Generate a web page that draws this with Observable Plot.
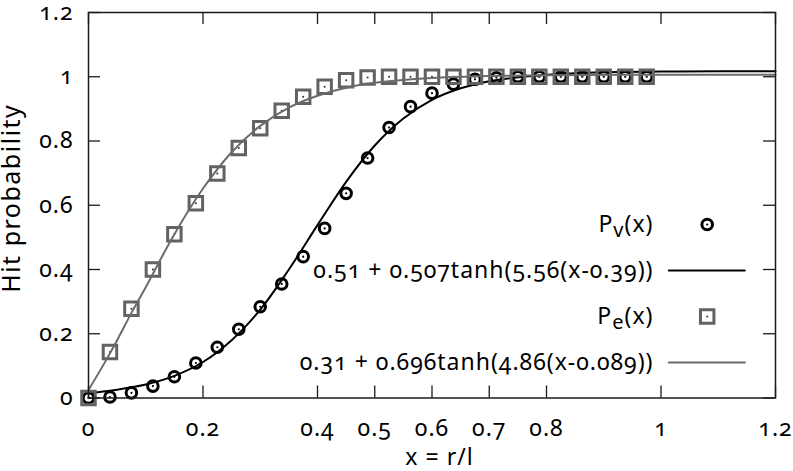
<!DOCTYPE html>
<html><head><meta charset="utf-8">
<script src="https://cdn.jsdelivr.net/npm/d3@7"></script>
<script src="https://cdn.jsdelivr.net/npm/@observablehq/plot@0.6"></script>
<style>
html,body{margin:0;padding:0;background:#fff;}
#chart svg{font-family:"Noto Sans",sans-serif;font-variant-numeric:oldstyle-nums;font-feature-settings:"onum" 1;letter-spacing:1px;}
</style></head><body><div id="chart"></div>
<script>
// sampled positions x = r/l
const xSample = [0, 0.0375, 0.075, 0.1125, 0.15, 0.1875, 0.225, 0.2625, 0.3, 0.3375, 0.375, 0.4125, 0.45, 0.4875, 0.525, 0.5625, 0.6, 0.6375, 0.675, 0.7125, 0.75, 0.7875, 0.825, 0.8625, 0.9, 0.9375, 0.975];
// P_v(x) measured
const pvValues = [0, 0.003, 0.016, 0.037, 0.066, 0.109, 0.158, 0.214, 0.284, 0.355, 0.44, 0.528, 0.637, 0.747, 0.842, 0.907, 0.949, 0.977, 0.992, 0.997, 1, 1, 1, 1, 1, 1, 1];
// P_e(x) measured
const peValues = [0, 0.143, 0.278, 0.40, 0.51, 0.606, 0.699, 0.778, 0.840, 0.894, 0.938, 0.969, 0.989, 0.998, 1, 1, 1, 1, 1, 1, 1, 1, 1, 1, 1, 1, 1];
// fitted curve for P_v
const fitVX = [0, 0.05, 0.1, 0.15, 0.2, 0.25, 0.3, 0.35, 0.4, 0.45, 0.5, 0.55, 0.6, 0.65, 0.7, 0.8, 0.9, 1.0, 1.1, 1.2];
const fitVY = [0.015, 0.026, 0.042, 0.069, 0.112, 0.18, 0.275, 0.40, 0.538, 0.673, 0.786, 0.87, 0.928, 0.964, 0.986, 1.006, 1.014, 1.016, 1.017, 1.017];
// fitted curve for P_e
const fitEX = [0, 0.025, 0.05, 0.075, 0.1, 0.15, 0.2, 0.25, 0.3, 0.35, 0.4, 0.45, 0.5, 0.6, 0.7, 0.8, 1.0, 1.2];
const fitEY = [0.025, 0.10, 0.18, 0.265, 0.345, 0.51, 0.652, 0.765, 0.847, 0.904, 0.941, 0.966, 0.981, 0.996, 1.002, 1.005, 1.006, 1.006];
// axes
const xTicks = [0, 0.2, 0.4, 0.5, 0.6, 0.7, 0.8, 1, 1.2];
const yTicks = [0, 0.2, 0.4, 0.6, 0.8, 1, 1.2];
const xLabel = "x = r/l";
const yLabel = "Hit probability";
const legendLabels = ["P_v(x)", "0.51 + 0.507tanh(5.56(x-0.39))", "P_e(x)", "0.31 + 0.696tanh(4.86(x-0.089))"];

const pv = xSample.map((x, i) => ({x, y: pvValues[i]}));
const pe = xSample.map((x, i) => ({x, y: peValues[i]}));
const fitV = fitVX.map((x, i) => ({x, y: fitVY[i]}));
const fitE = fitEX.map((x, i) => ({x, y: fitEY[i]}));

const W = 793, H = 471, mL = 88, mR = 18, mT = 12, mB = 73.5;
const fw = W - mL - mR, fh = H - mT - mB, tl = 12;
const black = "#000", gray = "#626262", grayLine = "#6b6b6b", axisCol = "#1a1a1a";
const lineShape = {draw(ctx, l) { ctx.moveTo(0, 0); ctx.lineTo(0, -l); }};
const rowDy = [212, 258, 304, 350];

const legendMarks = [];
legendLabels.forEach((lab, i) => {
  legendMarks.push(Plot.text([lab], {frameAnchor: "top-right", text: d => d, dx: -122, dy: rowDy[i], textAnchor: "end", lineAnchor: "middle", fill: "#000"}));
});
legendMarks.push(Plot.dot([0], {frameAnchor: "top-right", dx: -68.3, dy: rowDy[0], r: 5.3, stroke: black, strokeWidth: 3, fill: "none"}));
legendMarks.push(Plot.dot([0], {frameAnchor: "top-right", dx: -68.3, dy: rowDy[0], r: 1.1, fill: black}));
legendMarks.push(Plot.dot([0], {frameAnchor: "top-right", dx: -68.3, dy: rowDy[2], symbol: "square", r: 7.6, stroke: gray, strokeWidth: 3, fill: "none"}));
legendMarks.push(Plot.dot([0], {frameAnchor: "top-right", dx: -68.3, dy: rowDy[2], r: 1.0, fill: "#333"}));
legendMarks.push(Plot.vector([0], {frameAnchor: "top-right", dx: -106.7, dy: rowDy[1], rotate: 90, length: 76, anchor: "start", shape: lineShape, stroke: black, strokeWidth: 2}));
legendMarks.push(Plot.vector([0], {frameAnchor: "top-right", dx: -106.7, dy: rowDy[3], rotate: 90, length: 76, anchor: "start", shape: lineShape, stroke: grayLine, strokeWidth: 2}));

const fmt = d => String(d);
const chart = Plot.plot({
  width: W, height: H,
  marginLeft: mL, marginRight: mR, marginTop: mT, marginBottom: mB,
  style: {fontSize: "23px", fontFamily: "'Noto Sans', sans-serif", background: "#fff", color: "#000"},
  x: {domain: [0, 1.2], label: null},
  y: {domain: [0, 1.2], label: null},
  marks: [
    Plot.axisX({ticks: xTicks, tickSize: 0, tickPadding: 22, tickFormat: fmt, label: null}),
    Plot.axisY({ticks: yTicks, tickSize: 0, tickPadding: 15, tickFormat: fmt, label: null}),
    Plot.tickX(xTicks, {x: d => d, insetTop: fh - tl, stroke: axisCol, strokeWidth: 1.3}),
    Plot.tickX(xTicks, {x: d => d, insetBottom: fh - tl, stroke: axisCol, strokeWidth: 1.3}),
    Plot.tickY(yTicks, {y: d => d, insetRight: fw - tl, stroke: axisCol, strokeWidth: 1.3}),
    Plot.tickY(yTicks, {y: d => d, insetLeft: fw - tl, stroke: axisCol, strokeWidth: 1.3}),
    Plot.dot(pv, {x: "x", y: "y", r: 5.3, stroke: black, strokeWidth: 3, fill: "none"}),
    Plot.dot(pv, {x: "x", y: "y", r: 1.1, fill: black}),
    Plot.line(fitV, {x: "x", y: "y", stroke: black, strokeWidth: 2, curve: "catmull-rom"}),
    Plot.dot(pe, {x: "x", y: "y", symbol: "square", r: 7.6, stroke: gray, strokeWidth: 3, fill: "none"}),
    Plot.dot(pe, {x: "x", y: "y", r: 1.0, fill: "#333"}),
    Plot.line(fitE, {x: "x", y: "y", stroke: grayLine, strokeWidth: 2, curve: "catmull-rom"}),
    Plot.frame({stroke: axisCol, strokeWidth: 1.5}),
    Plot.text([yLabel], {frameAnchor: "left", text: d => d, dx: 19 - mL, dy: -7, rotate: -90, fontSize: 25, textAnchor: "middle", lineAnchor: "bottom", fill: "#000"}),
    Plot.text([xLabel], {frameAnchor: "bottom", text: d => d, dx: 7.5, dy: 67, textAnchor: "middle", lineAnchor: "bottom", fill: "#000"}),
    ...legendMarks
  ]
});
document.getElementById("chart").appendChild(chart);

d3.select(chart).selectAll("text").each(function() {
  const t = this.textContent;
  const el = d3.select(this);
  if (t === yLabel) el.style("letter-spacing", "1.5px");
  const m = /^P_([a-z])\(x\)$/.exec(t);
  if (m) {
    el.text("");
    el.append("tspan").text("P");
    el.append("tspan").attr("dy", 5).attr("font-size", "20px").text(m[1]);
    el.append("tspan").attr("dy", -5).text("(x)");
  }
});
</script>
</body></html>
